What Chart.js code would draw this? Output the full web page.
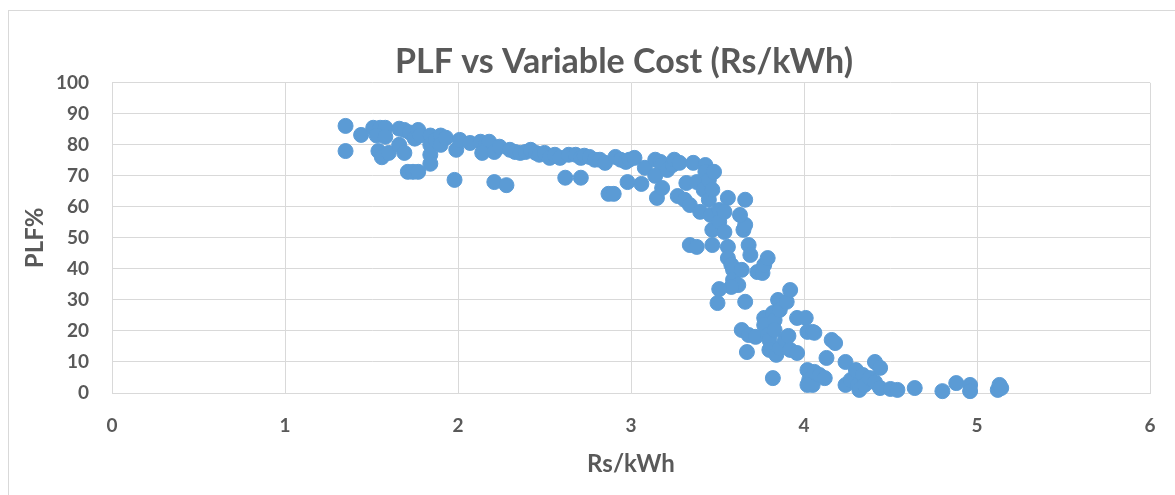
<!DOCTYPE html>
<html lang="en">
<head>
  <meta charset="UTF-8">
  <title>PLF vs Variable Cost (Rs/kWh)</title>
  <script src="https://cdn.jsdelivr.net/npm/chart.js"></script>
  <style>
    html, body {
      margin: 0;
      background: #fff;
      overflow: hidden;
    }
    .frame {
      position: absolute;
      left: 8px;
      top: 10px;
      width: 1230px;
      height: 500px;
      border: 1px solid #d9d9d9;
    }
  </style>
</head>
<body>
  <div class="frame">
    <canvas id="plfChart" width="1230" height="484"></canvas>
  </div>
  <script>
    // Rs/kWh values
    const costs = [
      1.35, 1.35, 1.44, 1.51, 1.55, 1.58, 1.53, 1.58, 1.54, 1.56, 1.60,
      1.66, 1.69, 1.72, 1.75, 1.66, 1.69, 1.77, 1.78, 1.71, 1.74, 1.77,
      1.84, 1.84, 1.87, 1.90, 1.90, 1.93, 1.84, 1.84, 1.98, 1.99, 2.01,
      2.07, 2.13, 2.16, 2.18, 2.14, 2.21, 2.21, 2.28, 2.24, 2.30, 2.33,
      2.36, 2.39, 2.42, 2.45, 2.47, 2.50, 2.53, 2.56, 2.59, 2.62, 2.64,
      2.68, 2.71, 2.71, 2.73, 2.76, 2.79, 2.82, 2.85, 2.87, 2.90, 2.91,
      2.94, 2.97, 2.99, 3.02, 2.98, 3.06, 3.08, 3.14, 3.17, 3.18, 3.14,
      3.15, 3.18, 3.21, 3.24, 3.25, 3.28, 3.27, 3.31, 3.32, 3.34, 3.34,
      3.38, 3.36, 3.38, 3.40, 3.42, 3.43, 3.43, 3.45, 3.45, 3.46, 3.47,
      3.47, 3.48, 3.47, 3.51, 3.51, 3.54, 3.56, 3.56, 3.54, 3.56, 3.58,
      3.59, 3.59, 3.62, 3.58, 3.51, 3.50, 3.64, 3.65, 3.66, 3.66, 3.63,
      3.68, 3.69, 3.66, 3.64, 3.68, 3.67, 3.72, 3.73, 3.76, 3.77, 3.79,
      3.77, 3.77, 3.79, 3.80, 3.80, 3.82, 3.83, 3.83, 3.85, 3.86, 3.82,
      3.84, 3.86, 3.89, 3.91, 3.92, 3.90, 3.92, 3.96, 3.96, 4.01, 4.02,
      4.05, 4.06, 4.02, 4.03, 4.05, 4.02, 4.06, 4.09, 4.12, 4.13, 4.16,
      4.18, 4.24, 4.24, 4.27, 4.30, 4.31, 4.32, 4.34, 4.35, 4.38, 4.41,
      4.41, 4.44, 4.44, 4.50, 4.54, 4.64, 4.80, 4.88, 4.96, 4.96, 5.12,
      5.13, 5.14
    ];
    // PLF% values, same order
    const plf = [
      86.1, 78.0, 83.2, 85.5, 85.5, 85.5, 83.0, 82.6, 78.0, 76.0, 77.4,
      85.2, 84.8, 84.0, 82.0, 80.0, 77.4, 84.8, 83.0, 71.3, 71.3, 71.3,
      83.0, 80.0, 81.6, 83.0, 80.0, 82.3, 76.8, 73.9, 68.7, 78.4, 81.6,
      80.6, 81.0, 80.0, 81.0, 77.4, 77.7, 68.0, 67.0, 79.4, 78.4, 77.7,
      77.4, 77.7, 78.4, 77.4, 76.8, 77.4, 75.8, 76.8, 75.8, 69.4, 76.8,
      76.8, 69.4, 75.8, 76.5, 76.1, 75.2, 75.2, 74.2, 64.2, 64.2, 76.1,
      75.2, 74.5, 75.2, 75.8, 68.0, 67.4, 72.6, 75.2, 74.5, 73.5, 70.0,
      62.9, 66.1, 71.9, 73.5, 75.2, 74.2, 63.5, 62.3, 67.7, 60.6, 47.7,
      47.1, 74.2, 68.0, 58.4, 65.5, 73.5, 71.3, 68.7, 62.3, 57.4, 52.6,
      47.7, 71.3, 65.5, 59.0, 55.2, 51.9, 47.1, 62.9, 58.4, 43.5, 41.3,
      39.7, 36.5, 34.8, 34.2, 33.5, 29.0, 39.7, 52.6, 54.2, 62.3, 57.4,
      47.7, 44.5, 29.4, 20.3, 18.7, 13.2, 18.1, 39.0, 38.7, 41.3, 43.5,
      24.2, 21.9, 18.7, 17.1, 13.9, 25.8, 23.5, 20.3, 30.0, 26.8, 4.8,
      12.3, 14.5, 17.1, 18.4, 13.9, 29.4, 33.2, 12.9, 24.2, 24.2, 19.7,
      19.7, 19.4, 7.4, 4.2, 2.6, 2.6, 6.8, 5.8, 4.8, 11.3, 17.1,
      16.1, 10.0, 2.6, 4.2, 7.4, 2.6, 1.0, 5.8, 2.6, 4.8, 3.5,
      10.0, 8.1, 1.6, 1.3, 1.0, 1.6, 0.6, 3.2, 2.6, 0.6, 1.0,
      2.6, 1.6
    ];
    const xTicks = [0, 1, 2, 3, 4, 5, 6];
    const yTicks = [0, 10, 20, 30, 40, 50, 60, 70, 80, 90, 100];

    const points = costs.map((c, i) => ({ x: c, y: plf[i] }));
    const grey = '#595959';
    const gridGrey = '#d9d9d9';
    const font = 'Lato, "Liberation Sans", sans-serif';

    new Chart(document.getElementById('plfChart'), {
      type: 'scatter',
      data: {
        datasets: [{
          label: 'PLF%',
          data: points,
          backgroundColor: '#5B9BD5',
          borderColor: '#5B9BD5',
          borderWidth: 1,
          pointRadius: 7.5,
          pointHoverRadius: 7.5,
          clip: false
        }]
      },
      options: {
        responsive: false,
        animation: false,
        layout: { padding: 0 },
        plugins: {
          legend: { display: false },
          tooltip: { enabled: false },
          title: {
            display: true,
            text: 'PLF vs Variable Cost (Rs/kWh)',
            color: grey,
            font: { family: font, size: 34, weight: 'bold' },
            padding: { top: 31, bottom: 0 }
          }
        },
        scales: {
          x: {
            type: 'linear',
            min: xTicks[0],
            max: xTicks[xTicks.length - 1],
            afterBuildTicks: (axis) => { axis.ticks = xTicks.map(v => ({ value: v })); },
            afterFit: (axis) => { axis.height = 102; },
            grid: { color: gridGrey, drawTicks: false },
            border: { color: gridGrey },
            ticks: {
              color: grey,
              padding: 21,
              font: { family: font, size: 19, weight: 'bold' }
            },
            title: {
              display: true,
              text: 'Rs/kWh',
              color: grey,
              font: { family: font, size: 24, weight: 'bold' },
              padding: { top: 0, bottom: 16 }
            }
          },
          y: {
            min: yTicks[0],
            max: yTicks[yTicks.length - 1],
            afterBuildTicks: (axis) => { axis.ticks = yTicks.map(v => ({ value: v })); },
            afterFit: (axis) => { axis.width = 103; },
            grid: { color: gridGrey, drawTicks: false },
            border: { color: gridGrey },
            ticks: {
              color: grey,
              padding: 23,
              font: { family: font, size: 19, weight: 'bold' }
            },
            title: {
              display: true,
              text: 'PLF%',
              color: grey,
              font: { family: font, size: 24, weight: 'bold' },
              padding: { top: 12, bottom: 0 }
            }
          },
          // empty space on the right side of the chart box
          spacer: {
            position: 'right',
            min: 0,
            max: 1,
            afterFit: (axis) => { axis.width = 89; },
            grid: { display: false, drawOnChartArea: false },
            border: { display: false },
            ticks: { display: false }
          }
        }
      }
    });
  </script>
</body>
</html>
